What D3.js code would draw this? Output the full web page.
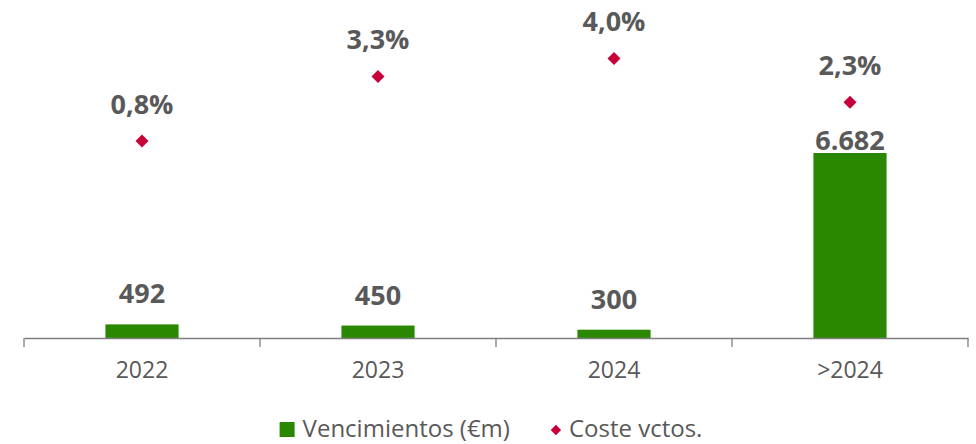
<!DOCTYPE html>
<html>
<head>
<meta charset="utf-8">
<script src="https://cdn.jsdelivr.net/npm/d3@7"></script>
<style>
  html, body { margin: 0; padding: 0; background: #fff; }
  svg text { font-family: "Open Sans", "Noto Sans", sans-serif; }
</style>
</head>
<body>
<div id="canvas"></div>
<script>
// data
var years = ['2022', '2023', '2024', '>2024'];
var vencimientos = [492, 450, 300, 6682];
var coste = [0.8, 3.3, 4.0, 2.3];
var seriesNames = ['Vencimientos (€m)', 'Coste vctos.'];

var W = 976, H = 444;
var green = '#2a8700', red = '#c8003a', grey = '#595959', axisGrey = '#7f7f7f';

var svg = d3.select('#canvas').append('svg')
    .attr('width', W)
    .attr('height', H);

var x = d3.scaleBand()
    .domain(years)
    .range([24, 968])
    .padding(0);

var y = d3.scaleLinear()
    .domain([0, 6682])
    .range([338, 153]);

var y2 = d3.scaleLinear()
    .domain([0, 4])
    .range([161.6, 58.4]);

var barW = x.bandwidth() * 0.31;

function fmtNum(v) {
    return d3.format(',')(v).replace(/,/g, '.');
}
function fmtPct(v) {
    return d3.format('.1f')(v).replace('.', ',') + '%';
}

// bars
svg.selectAll('rect.bar')
    .data(vencimientos)
    .enter()
    .append('rect')
    .attr('class', 'bar')
    .attr('x', function(d, i) { return x(years[i]) + x.bandwidth() / 2 - barW / 2; })
    .attr('y', function(d) { return y(d); })
    .attr('width', barW)
    .attr('height', function(d) { return y(0) - y(d); })
    .style('fill', green);

// axis
var axisX = d3.axisBottom(x).tickSize(0).tickPadding(24);
var gx = svg.append('g')
    .attr('transform', 'translate(0,' + y(0) + ')')
    .call(axisX);
gx.select('.domain').attr('stroke', axisGrey).attr('stroke-width', 1.3);
gx.selectAll('.tick text')
    .style('font-size', '23px')
    .style('fill', grey)
    .style('font-family', '"Open Sans", sans-serif');

// boundary tick marks
var bounds = years.map(function(d) { return x(d); }).concat([x.range()[1]]);
gx.selectAll('line.sep')
    .data(bounds)
    .enter()
    .append('line')
    .attr('class', 'sep')
    .attr('x1', function(d) { return d; })
    .attr('x2', function(d) { return d; })
    .attr('y1', 0)
    .attr('y2', 9)
    .attr('stroke', axisGrey)
    .attr('stroke-width', 1.3);

// bar labels (last one sits tight on the bar, as in the original)
svg.selectAll('text.vlab')
    .data(vencimientos)
    .enter()
    .append('text')
    .attr('class', 'vlab')
    .attr('x', function(d, i) { return x(years[i]) + x.bandwidth() / 2; })
    .attr('y', function(d, i) { return y(d) - (i === years.length - 1 ? 3 : 21); })
    .attr('text-anchor', 'middle')
    .style('font-size', '27px')
    .style('font-weight', 'bold')
    .style('fill', grey)
    .text(function(d) { return fmtNum(d); });

// diamonds
var diamond = d3.symbol().type(d3.symbolSquare).size(85);
svg.selectAll('path.pt')
    .data(coste)
    .enter()
    .append('path')
    .attr('class', 'pt')
    .attr('d', diamond)
    .attr('transform', function(d, i) {
        return 'translate(' + (x(years[i]) + x.bandwidth() / 2) + ',' + y2(d) + ') rotate(45)';
    })
    .style('fill', red);

svg.selectAll('text.plab')
    .data(coste)
    .enter()
    .append('text')
    .attr('class', 'plab')
    .attr('x', function(d, i) { return x(years[i]) + x.bandwidth() / 2; })
    .attr('y', function(d) { return y2(d) - 27; })
    .attr('text-anchor', 'middle')
    .style('font-size', '27px')
    .style('font-weight', 'bold')
    .style('fill', grey)
    .text(function(d) { return fmtPct(d); });

// legend
var leg = svg.append('g');
leg.append('rect')
    .attr('x', 0).attr('y', -15)
    .attr('width', 15).attr('height', 15)
    .style('fill', green);
var t1 = leg.append('text')
    .attr('x', 23).attr('y', 0)
    .style('font-size', '24px')
    .style('fill', grey)
    .text(seriesNames[0]);
var t1End = 23 + t1.node().getComputedTextLength();
leg.append('path')
    .attr('d', d3.symbol().type(d3.symbolSquare).size(55))
    .attr('transform', 'translate(' + (t1End + 46) + ',-7) rotate(45)')
    .style('fill', red);
leg.append('text')
    .attr('x', t1End + 59).attr('y', 0)
    .style('font-size', '24px')
    .style('fill', grey)
    .text(seriesNames[1]);
var lb = leg.node().getBBox();
leg.attr('transform', 'translate(' + (491 - lb.width / 2) + ',437)');
</script>
</body>
</html>
